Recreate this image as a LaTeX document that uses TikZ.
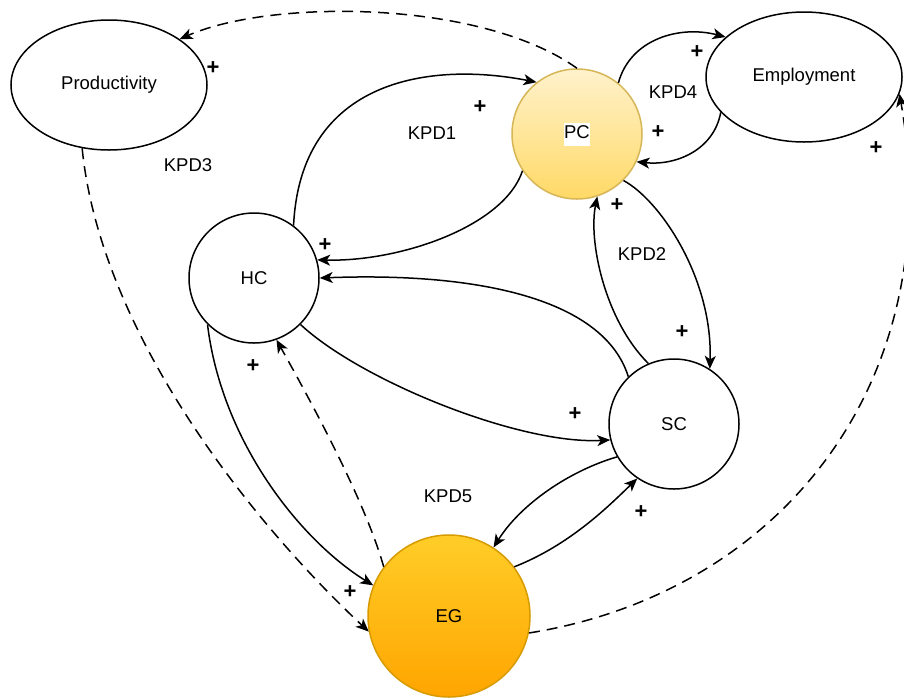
\documentclass[tikz,border=0pt]{standalone}
\usepackage{fontspec}
\setmainfont{Liberation Sans}
\usepackage{tikz}
\usetikzlibrary{shapes.geometric, arrows.meta}

\definecolor{pcTop}{HTML}{FFF2CC}
\definecolor{pcBot}{HTML}{FFD966}
\definecolor{pcLine}{HTML}{D6B656}
\definecolor{egTop}{HTML}{FFCD28}
\definecolor{egBot}{HTML}{FFA500}
\definecolor{egLine}{HTML}{D79B00}
\setlength{\fboxsep}{0.5pt}

\tikzset{
    txt/.style={font=\fontsize{18.5}{22}\selectfont},
    var/.style={txt, draw, circle, minimum size=130pt, inner sep=0pt, line width=1.5pt},
    outer/.style={txt, draw, ellipse, minimum width=196pt, minimum height=130pt, inner sep=0pt, line width=1.5pt},
    link/.style={line width=1.5pt, -{Stealth[length=13pt, width=11pt, inset=3.5pt]}},
    dlink/.style={link, dash pattern=on 11pt off 7pt},
    sign/.style={font=\fontsize{22}{22}\selectfont\bfseries, inner sep=0pt},
}

\begin{document}
\begin{tikzpicture}[x=1pt, y=-1pt]
        \path[use as bounding box, fill=white] (0,0) rectangle (904,697);

        % variables
        \node[outer] (prod) at (109,85) {Productivity};
        \node[outer] (emp) at (804,77) {Employment};
        \node[var, top color=pcTop, bottom color=pcBot, draw=pcLine] (pc) at (577,134) {\colorbox{white}{\strut PC}};
        \node[var] (hc) at (254,278) {HC};
        \node[var] (sc) at (674,424) {SC};
        \node[var, minimum size=162pt, top color=egTop, bottom color=egBot, draw=egLine] (eg) at (449,616) {EG};

        % solid links
        \draw[link] (hc.53) .. controls +(7,-146) and +(-107,-21) .. (pc.128);
        \draw[link] (pc.214) .. controls +(-18,55) and +(84,2) .. (hc.16);
        \draw[link] (pc.51) .. controls +(12,-44) and +(-46,-12) .. (emp.153);
        \draw[link] (emp.203) .. controls +(-7,38) and +(39,4) .. (pc.-25);
        \draw[link] (sc.113) .. controls +(-44,-44) and +(-9,44) .. (pc.-72);
        \draw[link] (pc.-45) .. controls +(37,20) and +(3,-90) .. (sc.57);
        \draw[link] (sc.134) .. controls +(-24,-77) and +(161,-6) .. (hc.0);
        \draw[link] (hc.-45) .. controls +(60,56) and +(-91,5) .. (sc.194);
        \draw[link] (sc.210) .. controls +(-48,14) and +(27,-43) .. (eg.57);
        \draw[link] (eg.37) .. controls +(56,-22) and +(-28,27) .. (sc.236);
        \draw[link] (hc.225) .. controls +(14,116) and +(-74,-46) .. (eg.158);

        % dashed links
        \draw[dlink] (pc.90) .. controls +(-97,-69) and +(91,-40) .. (prod.33);
        \draw[dlink] (eg.143) .. controls +(-19,-67) and +(34,61) .. (hc.290);
        \draw[dlink] (prod.247) .. controls +(18,182) and +(-120,-112) .. (eg.191);
        \draw[dlink] (eg.348) .. controls +(250,-40) and +(50,290) .. (emp.-10);

        % polarities
        \node[sign] (s1) at (213,68) {+};
        \node[sign] (s2) at (480,107) {+};
        \node[sign] (s3) at (325,245) {+};
        \node[sign] (s4) at (697,52) {+};
        \node[sign] (s5) at (658,132) {+};
        \node[sign] (s6) at (617,205) {+};
        \node[sign] (s7) at (682,332) {+};
        \node[sign] (s8) at (876,148) {+};
        \node[sign] (s9) at (575,414) {+};
        \node[sign] (s10) at (641,512) {+};
        \node[sign] (s11) at (253,366) {+};
        \node[sign] (s12) at (350,592) {+};

        % loop names
        \node[txt] (kpd1) at (432,133) {KPD1};
        \node[txt] (kpd2) at (642,254) {KPD2};
        \node[txt] (kpd3) at (188,165) {KPD3};
        \node[txt] (kpd4) at (673,92) {KPD4};
        \node[txt] (kpd5) at (448,496) {KPD5};
\end{tikzpicture}
\end{document}
